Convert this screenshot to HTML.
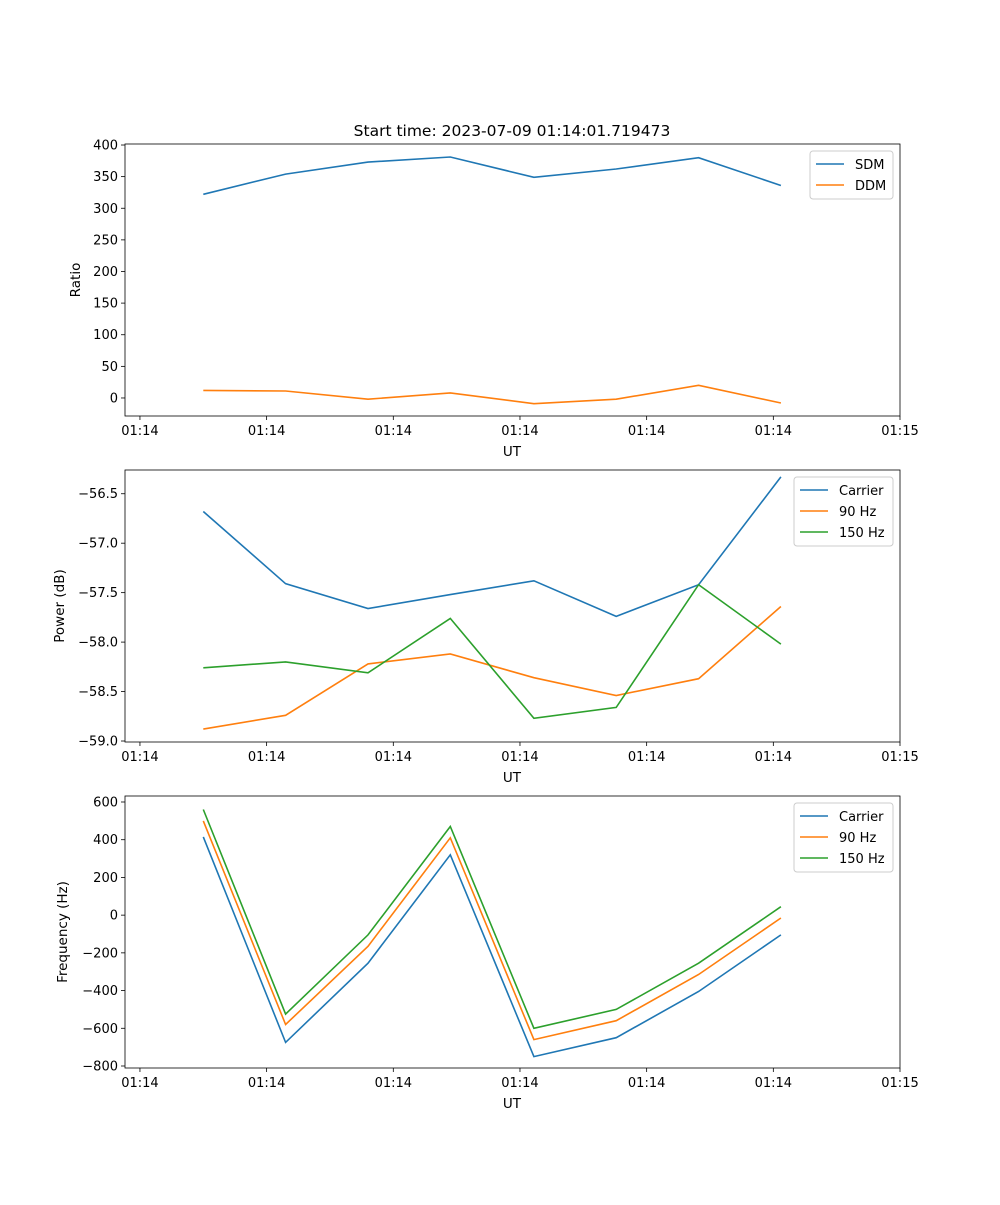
<!DOCTYPE html>
<html><head><meta charset="utf-8"><style>
body{margin:0;background:#fff;}
svg text{font-family:"DejaVu Sans","Liberation Sans",sans-serif;fill:#000;}
</style></head><body>
<svg id="fig" width="1000" height="1200" xmlns="http://www.w3.org/2000/svg">
<rect width="1000" height="1200" fill="#fff"/>
<text x="512" y="136" font-size="15.5" text-anchor="middle">Start time: 2023-07-09 01:14:01.719473</text>
</svg>
<script>
const times = [5.0, 11.5, 18.0, 24.5, 31.1, 37.6, 44.1, 50.6];
const xTicks = [0, 10, 20, 30, 40, 50, 60];
const xTickLabels = ["01:14","01:14","01:14","01:14","01:14","01:14","01:15"];
const sdm = [322, 354, 373, 381, 349, 362, 380, 336];
const ddm = [12, 11, -2, 8, -9, -2, 20, -8];
const ratioTicks = [0,50,100,150,200,250,300,350,400];
const powCarrier = [-56.68, -57.41, -57.66, -57.52, -57.38, -57.74, -57.42, -56.33];
const pow90 = [-58.88, -58.74, -58.22, -58.12, -58.36, -58.54, -58.37, -57.64];
const pow150 = [-58.26, -58.20, -58.31, -57.76, -58.77, -58.66, -57.42, -58.02];
const powTicks = [-59.0,-58.5,-58.0,-57.5,-57.0,-56.5];
const freqCarrier = [415, -675, -255, 320, -750, -650, -405, -105];
const freq90 = [500, -580, -165, 410, -660, -560, -315, -15];
const freq150 = [560, -525, -105, 470, -600, -500, -255, 45];
const freqTicks = [-800,-600,-400,-200,0,200,400,600];

const NS="http://www.w3.org/2000/svg";
const svg=document.getElementById('fig');
function el(tag,attrs,parent){const e=document.createElementNS(NS,tag);for(const k in attrs)e.setAttribute(k,attrs[k]);(parent||svg).appendChild(e);return e;}
const L=125,R=900;
const xDom=[-1.18,60];
function xs(t){return L+(t-xDom[0])/(xDom[1]-xDom[0])*(R-L);}

function panel(name,top,bottom,yDom,yTicks,fmt,ylabel,series,legend){
  const g=el('g',{});
  
  
  const ys=v=>bottom-(v-yDom[0])/(yDom[1]-yDom[0])*(bottom-top);
  xTicks.forEach((t,i)=>{
    const x=xs(t);
    el('line',{x1:x,x2:x,y1:bottom,y2:bottom+4,stroke:'#000','stroke-width':0.8},g);
    const tx=el('text',{x:x,y:bottom+19,'font-size':13,'text-anchor':'middle'},g);
    tx.textContent=xTickLabels[i];
    
    
  });
  const xl=el('text',{x:512,y:bottom+40,'font-size':13.5,'text-anchor':'middle'},g);
  xl.textContent='UT';
  
  
  yTicks.forEach(v=>{
    const y=ys(v);
    el('line',{x1:L-4,x2:L,y1:y,y2:y,stroke:'#000','stroke-width':0.8},g);
    const tx=el('text',{x:L-7,y:y+4.5,'font-size':13,'text-anchor':'end'},g);
    tx.textContent=fmt(v);
    
    
  });
  const yc=(top+bottom)/2;
  const yl=el('text',{x:0,y:0,'font-size':13.5,'text-anchor':'middle',transform:`translate(${ylabel[1]},${yc}) rotate(-90)`},g);
  yl.textContent=ylabel[0];
  
  
  series.forEach(s=>{
    const d=s.vals.map((v,i)=>(i?'L':'M')+xs(times[i]).toFixed(1)+','+ys(v).toFixed(1)).join(' ');
    const p=el('path',{d:d,fill:'none',stroke:s.color,'stroke-width':1.6},g);
    
    
  });
  el('rect',{x:L,y:top,width:R-L,height:bottom-top,fill:'none',stroke:'#000','stroke-width':0.8},g);
  const lg=el('g',{},g);
  
  
  el('rect',{x:legend[0],y:top+7,width:legend[1],height:series.length*21+6,rx:3,fill:'#fff',stroke:'#ccc','stroke-width':1},lg);
  series.forEach((s,i)=>{
    const y=top+20+i*21;
    el('line',{x1:legend[0]+6,x2:legend[0]+34,y1:y,y2:y,stroke:s.color,'stroke-width':1.6},lg);
    const t=el('text',{x:legend[0]+45,y:y+5,'font-size':13},lg);
    t.textContent=s.label;
    
    
  });
}
const B='#1f77b4',O='#ff7f0e',G='#2ca02c';
panel('ratio-panel',144,416,[-28.5,401.6],ratioTicks,v=>String(v),['Ratio',80],
  [{key:'sdm',label:'SDM',vals:sdm,color:B},{key:'ddm',label:'DDM',vals:ddm,color:O}],[810,83]);
panel('power-panel',470,742,[-59.01,-56.26],powTicks,v=>'\u2212'+Math.abs(v).toFixed(1),['Power (dB)',64],
  [{key:'carrier',label:'Carrier',vals:powCarrier,color:B},{key:'90hz',label:'90 Hz',vals:pow90,color:O},{key:'150hz',label:'150 Hz',vals:pow150,color:G}],[794,99]);
panel('frequency-panel',796,1068,[-810.6,631.8],freqTicks,v=>v<0?'\u2212'+Math.abs(v):String(v),['Frequency (Hz)',67],
  [{key:'carrier',label:'Carrier',vals:freqCarrier,color:B},{key:'90hz',label:'90 Hz',vals:freq90,color:O},{key:'150hz',label:'150 Hz',vals:freq150,color:G}],[794,99]);
</script>
</body></html>
